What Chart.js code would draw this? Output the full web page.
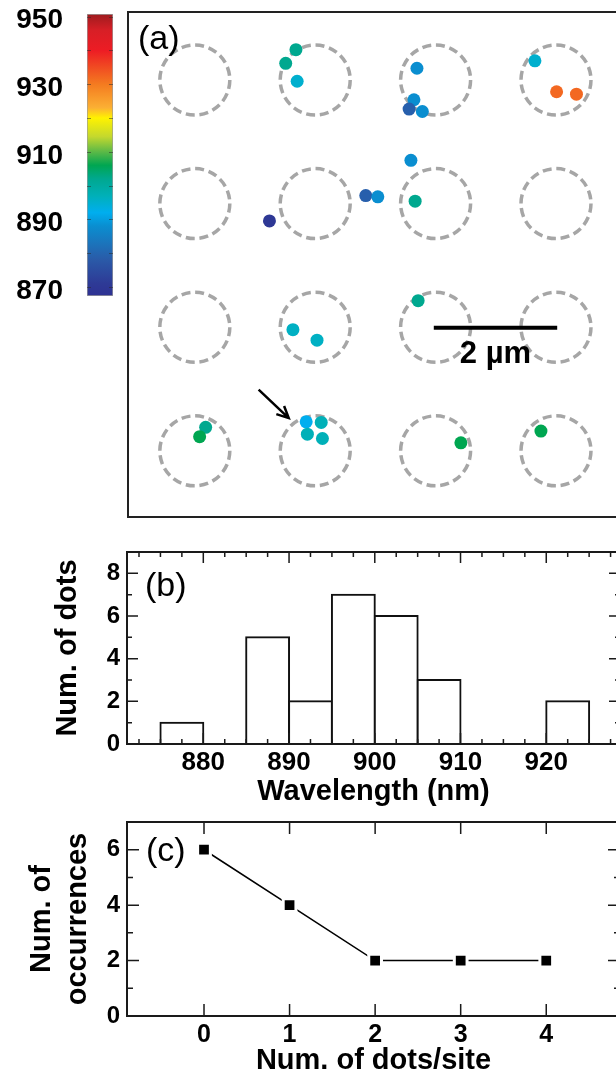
<!DOCTYPE html>
<html>
<head>
<meta charset="utf-8">
<script src="https://cdn.jsdelivr.net/npm/chart.js@4.4.1/dist/chart.umd.min.js"></script>
<style>
  html, body { margin: 0; padding: 0; background: #fff; overflow: hidden; }
  #wrap { position: relative; width: 616px; height: 1078px; overflow: hidden; }
  canvas { position: absolute; }
</style>
</head>
<body>
<div id="wrap">
  <canvas id="cb" width="120" height="310" style="left:0;top:0"></canvas>
  <canvas id="pa" width="504" height="530" style="left:120px;top:0"></canvas>
  <canvas id="pb" width="624" height="290" style="left:0;top:530px"></canvas>
  <canvas id="pc" width="624" height="278" style="left:0;top:800px"></canvas>
</div>
<script>
Chart.defaults.font.family = "'Liberation Sans', Arial, Helvetica, sans-serif";
Chart.defaults.color = '#000';

// (a) site grid and dot positions, in µm (site pitch 2 µm)
const siteX = [0, 2, 4, 6];
const siteY = [0, 2, 4, 6];

const dotX = [1.68, 1.51, 1.70, 3.69, 3.64, 3.56, 3.78, 5.65, 6.01, 6.34,
              3.59, 2.84, 3.04, 3.66, 1.24, 3.71, 1.63, 2.03, 0.18, 0.08,
              1.85, 2.10, 1.87, 2.12, 4.42, 5.75];
const dotY = [-0.49, -0.27, 0.02, -0.19, 0.32, 0.47, 0.51, -0.31, 0.19, 0.23,
              1.30, 1.87, 1.89, 1.96, 2.28, 3.57, 4.04, 4.21, 5.62, 5.77,
              5.53, 5.54, 5.73, 5.80, 5.87, 5.68];
// emission wavelength of each dot (nm)
const dotWl = [902, 902, 895, 888, 888, 879, 888, 895, 932, 932,
               888, 879, 888, 902, 870, 902, 896, 896, 902, 906,
               892, 897, 897, 897, 906, 906];

const scaleBarX = [3.97, 6.02];
const scaleBarY = [4.01, 4.01];
const arrowX = [1.06, 1.56];
const arrowY = [5.01, 5.47];

// colour bar (nm)
const cbRange = [867.3, 950.8];
const cbStops = [867, 871, 878, 883, 888, 892, 897, 902, 906, 910, 914.5, 920, 923, 930, 940, 946, 951];
const cbColors = ['#2e3192', '#2e3a96', '#2a5aa8', '#1b75bc', '#0a8ed0', '#00aeef', '#00b0b8', '#00a88f',
                  '#00a651', '#5cb947', '#c4d82e', '#fff200', '#fbb034', '#f47b20', '#ed1c24', '#d71f26', '#9e1b1e'];

// (b) histogram, 5 nm bins
const binStart = [875, 880, 885, 890, 895, 900, 905, 910, 915, 920];
const binCount = [1, 0, 5, 2, 7, 6, 3, 0, 0, 2];
const binWidth = 5;

// (c)
const dotsPerSite = [0, 1, 2, 3, 4];
const occurrences = [6, 4, 2, 2, 2];

function hexRgb(h) {
  const n = parseInt(h.slice(1), 16);
  return [n >> 16, (n >> 8) & 255, n & 255];
}

function wlColor(wl) {
  if (wl <= cbStops[0]) return cbColors[0];
  for (let i = 1; i < cbStops.length; i++) {
    if (wl <= cbStops[i]) {
      const t = (wl - cbStops[i - 1]) / (cbStops[i] - cbStops[i - 1]);
      const a = hexRgb(cbColors[i - 1]), b = hexRgb(cbColors[i]);
      return 'rgb(' + a.map((c, k) => Math.round(c + (b[k] - c) * t)).join(',') + ')';
    }
  }
  return cbColors[cbColors.length - 1];
}

const boldFont = "'Liberation Sans', Arial, sans-serif";

// fixed axis boxes, no extra label padding
function fixWidth(w) {
  return (s) => { s.width = w; s.paddingTop = 0; s.paddingBottom = 0; };
}
function fixHeight(h) {
  return (s) => { s.height = h; s.paddingLeft = 0; s.paddingRight = 0; };
}

// ---------- colour bar ----------
const cbTicks = {
  id: 'cbTicks',
  afterDatasetsDraw(chart) {
    const { ctx, chartArea: a, scales: { y } } = chart;
    ctx.save();
    ctx.strokeStyle = 'rgba(40,40,40,0.5)';
    ctx.lineWidth = 1;
    y.ticks.forEach((t) => {
      const py = Math.round(y.getPixelForValue(t.value)) + 0.5;
      ctx.beginPath();
      ctx.moveTo(a.left, py); ctx.lineTo(a.left + 4, py);
      ctx.moveTo(a.right - 4, py); ctx.lineTo(a.right, py);
      ctx.stroke();
    });
    ctx.restore();
  },
};

new Chart(document.getElementById('cb'), {
  type: 'bar',
  data: {
    labels: [''],
    datasets: [{
      data: [cbRange],
      backgroundColor: (c) => {
        const ch = c.chart;
        const ys = ch.scales.y;
        if (!ys || !ch.chartArea) return '#fff';
        const y0 = ys.getPixelForValue(cbRange[0]);
        const y1 = ys.getPixelForValue(cbRange[1]);
        const g = ch.ctx.createLinearGradient(0, y0, 0, y1);
        cbStops.forEach((s, i) => {
          const f = (s - cbRange[0]) / (cbRange[1] - cbRange[0]);
          g.addColorStop(Math.min(1, Math.max(0, f)), cbColors[i]);
        });
        return g;
      },
      borderColor: '#9c9c9c',
      borderWidth: 1,
      borderSkipped: false,
      barPercentage: 1,
      categoryPercentage: 1,
    }],
  },
  options: {
    responsive: false,
    animation: false,
    events: [],
    layout: { autoPadding: false, padding: { top: 14, bottom: 14, right: 7, left: 0 } },
    plugins: { legend: { display: false }, tooltip: { enabled: false } },
    scales: {
      x: { display: false },
      y: {
        min: cbRange[0],
        max: cbRange[1],
        grid: { display: false, drawTicks: false },
        border: { display: false },
        ticks: {
          stepSize: 10,
          includeBounds: false,
          autoSkip: false,
          padding: 24,
          labelOffset: 4,
          font: { size: 28, weight: 'bold' },
          callback: (v) => ((v - 870) % 20 === 0 ? v : ''),
        },
        afterFit: fixWidth(87),
      },
    },
  },
  plugins: [cbTicks],
});

// ---------- panel (a) ----------
const siteSketch = {
  id: 'siteSketch',
  beforeDatasetDraw(chart, args) {
    if (args.index === 2) chart.ctx.setLineDash([9, 4.75]);
  },
  afterDatasetDraw(chart, args) {
    if (args.index === 2) chart.ctx.setLineDash([]);
  },
  afterDraw(chart) {
    const { ctx, chartArea: a, scales: { x, y } } = chart;
    ctx.save();
    const x0 = x.getPixelForValue(arrowX[0]), y0 = y.getPixelForValue(arrowY[0]);
    const x1 = x.getPixelForValue(arrowX[1]), y1 = y.getPixelForValue(arrowY[1]);
    const ang = Math.atan2(y1 - y0, x1 - x0);
    ctx.strokeStyle = '#000';
    ctx.lineWidth = 2.5;
    ctx.beginPath();
    ctx.moveTo(x0, y0); ctx.lineTo(x1, y1);
    ctx.moveTo(x1 - 13 * Math.cos(ang - 0.45), y1 - 13 * Math.sin(ang - 0.45));
    ctx.lineTo(x1, y1);
    ctx.lineTo(x1 - 13 * Math.cos(ang + 0.45), y1 - 13 * Math.sin(ang + 0.45));
    ctx.stroke();

    ctx.fillStyle = '#000';
    ctx.font = 'bold 31px ' + boldFont;
    ctx.textAlign = 'center';
    ctx.textBaseline = 'middle';
    const midX = (x.getPixelForValue(scaleBarX[0]) + x.getPixelForValue(scaleBarX[1])) / 2;
    ctx.fillText('2 µm', midX, y.getPixelForValue(scaleBarY[0]) + 27);

    ctx.lineWidth = 2;
    ctx.strokeStyle = '#222';
    ctx.strokeRect(a.left, a.top, a.right - a.left, a.bottom - a.top);
    ctx.font = '34px ' + boldFont;
    ctx.textAlign = 'left';
    ctx.fillText('(a)', a.left + 10, a.top + 28);
    ctx.restore();
  },
};

new Chart(document.getElementById('pa'), {
  type: 'scatter',
  data: {
    datasets: [
      {
        data: dotX.map((x, i) => ({ x, y: dotY[i] })),
        pointRadius: 6.5,
        pointBorderWidth: 0,
        pointBackgroundColor: dotWl.map(wlColor),
      },
      {
        type: 'line',
        data: scaleBarX.map((x, i) => ({ x, y: scaleBarY[i] })),
        borderColor: '#000',
        borderWidth: 4,
        pointRadius: 0,
      },
      {
        data: siteY.flatMap((y) => siteX.map((x) => ({ x, y }))),
        pointRadius: 35,
        pointBorderWidth: 3.5,
        pointBorderColor: '#a6a6a6',
        pointBackgroundColor: 'rgba(0,0,0,0)',
      },
    ],
  },
  options: {
    responsive: false,
    animation: false,
    events: [],
    layout: { autoPadding: false, padding: { left: 8, top: 12, right: 3, bottom: 13 } },
    plugins: { legend: { display: false }, tooltip: { enabled: false } },
    scales: {
      x: { type: 'linear', min: -1.11, max: 7.08, display: false },
      y: { type: 'linear', min: -1.10, max: 7.07, reverse: true, display: false },
    },
  },
  plugins: [siteSketch],
});

// ---------- frame, inward ticks and panel letter for (b), (c) ----------
function isMajor(v, every) {
  const r = v / every;
  return Math.abs(r - Math.round(r)) < 1e-6;
}

const frameTicks = {
  id: 'frameTicks',
  afterDraw(chart, args, opts) {
    const { ctx, chartArea: a, scales: { x, y } } = chart;
    ctx.save();
    ctx.strokeStyle = '#1a1a1a';
    ctx.lineWidth = 1.5;
    let xs = x.ticks.map((t) => t.value);
    if (opts.xStep) {
      xs = [];
      for (let v = Math.ceil(x.min / opts.xStep) * opts.xStep; v <= x.max; v += opts.xStep) xs.push(v);
    }
    ctx.beginPath();
    xs.forEach((v) => {
      const px = x.getPixelForValue(v);
      const len = isMajor(v, opts.xMajor) ? opts.major : opts.minor;
      ctx.moveTo(px, a.top); ctx.lineTo(px, a.top + len);
      ctx.moveTo(px, a.bottom); ctx.lineTo(px, a.bottom - len);
    });
    y.ticks.forEach((t) => {
      const py = y.getPixelForValue(t.value);
      const len = isMajor(t.value, opts.yMajor) ? opts.major : opts.minor;
      ctx.moveTo(a.left, py); ctx.lineTo(a.left + len, py);
      ctx.moveTo(a.right, py); ctx.lineTo(a.right - len, py);
    });
    ctx.stroke();
    ctx.lineWidth = 2;
    ctx.strokeRect(a.left, a.top, a.right - a.left, a.bottom - a.top);
    ctx.fillStyle = '#000';
    ctx.font = '34px ' + boldFont;
    ctx.textAlign = 'left';
    ctx.textBaseline = 'middle';
    ctx.fillText(opts.letter, a.left + opts.letterDx, a.top + opts.letterDy);
    ctx.restore();
  },
};

const tickFontB = { size: 26, weight: 'bold', lineHeight: 1.2 };
const tickFontC = { size: 25, weight: 'bold', lineHeight: 1.2 };
const yTickFont = { size: 24, weight: 'bold', lineHeight: 1.2 };
const titleFont = { size: 29, weight: 'bold', lineHeight: 1.2 };

// ---------- panel (b) ----------
new Chart(document.getElementById('pb'), {
  type: 'bar',
  data: {
    datasets: [{
      data: binStart.map((b, i) => ({ x: b + binWidth / 2, y: binCount[i] || null })),
      backgroundColor: '#fff',
      borderColor: '#111',
      borderWidth: 2,
      inflateAmount: 1,
      barPercentage: 1,
      categoryPercentage: 1,
    }],
  },
  options: {
    responsive: false,
    animation: false,
    events: [],
    layout: { autoPadding: false, padding: { top: 22, right: 4, left: 0, bottom: 0 } },
    plugins: {
      legend: { display: false },
      tooltip: { enabled: false },
      frameTicks: { xStep: 2.5, xMajor: 10, yMajor: 2, major: 11, minor: 5, letter: '(b)', letterDx: 18, letterDy: 35 },
    },
    scales: {
      x: {
        type: 'linear',
        offset: false,
        min: 871.1,
        max: 928.6,
        grid: { display: false, drawTicks: false, offset: false },
        border: { display: false },
        ticks: {
          stepSize: 5,
          includeBounds: false,
          autoSkip: false,
          maxRotation: 0,
          padding: 3.4,
          font: tickFontB,
          callback: (v) => (v % 10 === 0 ? v : ''),
        },
        title: { display: true, text: 'Wavelength (nm)', font: titleFont, padding: { top: 0, bottom: 10.6 } },
        afterFit: fixHeight(76),
      },
      y: {
        min: 0,
        max: 9,
        grid: { display: false, drawTicks: false },
        border: { display: false },
        ticks: {
          stepSize: 1,
          autoSkip: false,
          padding: 7,
          font: yTickFont,
          callback: (v) => (v % 2 === 0 ? v : ''),
        },
        title: { display: true, text: 'Num. of dots', font: titleFont, padding: { top: 50.6, bottom: 0 } },
        afterFit: fixWidth(127),
      },
    },
  },
  plugins: [frameTicks],
});

// ---------- panel (c) ----------
new Chart(document.getElementById('pc'), {
  type: 'line',
  data: {
    datasets: [{
      data: dotsPerSite.map((x, i) => ({ x, y: occurrences[i] })),
      borderColor: '#000',
      borderWidth: 1.6,
      pointStyle: 'rect',
      pointRadius: 9,
      pointBackgroundColor: '#000',
      pointBorderColor: '#fff',
      pointBorderWidth: 3,
    }],
  },
  options: {
    responsive: false,
    animation: false,
    events: [],
    layout: { autoPadding: false, padding: { top: 22, right: 4, left: 0, bottom: 0 } },
    plugins: {
      legend: { display: false },
      tooltip: { enabled: false },
      frameTicks: { xMajor: 1, yMajor: 2, major: 12, minor: 6, letter: '(c)', letterDx: 19, letterDy: 30 },
    },
    scales: {
      x: {
        type: 'linear',
        min: -0.9,
        max: 4.862,
        grid: { display: false, drawTicks: false },
        border: { display: false },
        ticks: { stepSize: 1, includeBounds: false, autoSkip: false, maxRotation: 0, padding: 4, font: tickFontC },
        title: { display: true, text: 'Num. of dots/site', font: titleFont, padding: { top: 0, bottom: 0 } },
        afterFit: fixHeight(62),
      },
      y: {
        min: 0,
        max: 7,
        grid: { display: false, drawTicks: false },
        border: { display: false },
        ticks: {
          stepSize: 1,
          autoSkip: false,
          padding: 7,
          font: yTickFont,
          callback: (v) => (v % 2 === 0 ? v : ''),
        },
        title: {
          display: true,
          text: ['Num. of', 'occurrences'],
          font: { size: 29, weight: 'bold', lineHeight: 1.25 },
          padding: { top: 24, bottom: 0 },
        },
        afterFit: fixWidth(127),
      },
    },
  },
  plugins: [frameTicks],
});
</script>
</body>
</html>
